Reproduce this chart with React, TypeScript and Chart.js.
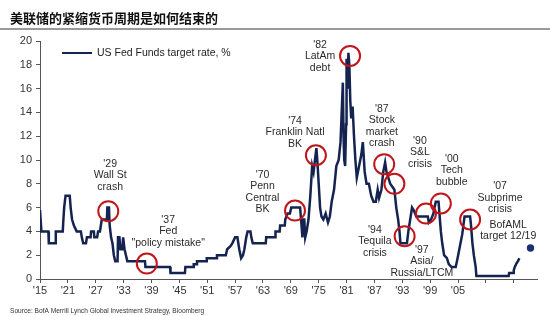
import React, { useEffect, useRef } from "react";
import { Chart, registerables } from "chart.js";

Chart.register(...registerables);

const TITLE = "美联储的紧缩货币周期是如何结束的";
const SOURCE = "Source: BofA Merrill Lynch Global Investment Strategy, Bloomberg";
const SERIES_NAME = "US Fed Funds target rate, %";

const years: number[] = [
  1915.0, 1915.3, 1916.8, 1916.9, 1918.3, 1918.4, 1919.9, 1920.0, 1920.2, 1920.5, 1921.4, 1921.6, 1921.9, 1922.3, 1922.9,
  1923.8, 1924.0, 1924.3, 1924.9, 1925.1, 1925.9, 1926.0, 1926.6, 1926.7, 1927.3, 1927.5, 1927.9, 1928.1, 1928.3, 1929.4,
  1929.5, 1929.85, 1930.0, 1930.3, 1930.6, 1930.9, 1931.2, 1931.7, 1931.8, 1932.1, 1932.3, 1932.7, 1932.9, 1933.2, 1933.5,
  1933.8, 1937.6, 1937.7, 1943.0, 1943.1, 1946.2, 1946.3, 1948.0, 1948.1, 1948.7, 1948.8, 1950.8, 1950.9, 1953.0, 1953.1,
  1955.0, 1955.3, 1956.0, 1956.4, 1957.0, 1957.5, 1957.9, 1958.3, 1958.7, 1959.0, 1959.4, 1959.7, 1960.3, 1960.5, 1960.8,
  1963.6, 1963.7, 1965.6, 1965.7, 1966.6, 1966.7, 1967.7, 1967.8, 1968.3, 1968.8, 1969.1, 1971.0, 1971.2, 1971.5, 1971.7,
  1971.9, 1972.1, 1972.4, 1972.8, 1973.2, 1973.6, 1973.9, 1974.2, 1974.5, 1974.7, 1975.0, 1975.3, 1975.6, 1976.0, 1976.5,
  1977.0, 1977.4, 1977.8, 1978.3, 1978.8, 1979.3, 1979.7, 1979.9, 1980.2, 1980.35, 1980.5, 1980.7, 1980.9, 1981.0, 1981.2,
  1981.4, 1981.6, 1981.8, 1982.0, 1982.3, 1982.6, 1982.9, 1983.2, 1983.7, 1984.2, 1984.5, 1984.9, 1985.3, 1985.8, 1986.3,
  1986.8, 1987.3, 1987.7, 1988.0, 1988.5, 1988.9, 1989.3, 1989.6, 1990.4, 1991.3, 1991.7, 1992.1, 1992.4, 1992.6, 1994.0,
  1994.3, 1994.7, 1995.1, 1995.5, 1996.0, 1998.5, 1998.7, 1999.2, 1999.7, 2000.2, 2000.8, 2001.0, 2001.3, 2001.6, 2002.0,
  2002.6, 2003.0, 2003.6, 2004.5, 2004.9, 2005.4, 2005.9, 2006.4, 2007.6, 2007.8, 2008.1, 2008.4, 2008.8, 2008.95, 2015.9,
  2016.0, 2016.9, 2017.0, 2017.2, 2017.5, 2017.9, 2018.2,
];
const rates: number[] = [
  5.8, 4.0, 4.0, 3.0, 3.0, 4.0, 4.0, 4.75, 6.0, 7.0, 7.0, 6.0, 5.0, 4.5, 4.0,
  4.0, 3.5, 3.0, 3.0, 3.5, 3.5, 4.0, 4.0, 3.5, 3.5, 4.0, 4.0, 4.5, 5.0, 5.0,
  6.0, 6.0, 4.5, 3.5, 3.0, 2.0, 1.5, 1.5, 3.5, 3.5, 2.5, 2.5, 3.5, 2.5, 2.0,
  1.5, 1.5, 1.0, 1.0, 0.5, 0.5, 1.0, 1.0, 1.25, 1.25, 1.5, 1.5, 1.75, 1.75, 2.0,
  2.0, 2.5, 2.75, 3.0, 3.5, 3.5, 2.5, 1.75, 2.0, 2.5, 3.5, 4.0, 4.0, 3.5, 3.0,
  3.0, 3.5, 3.5, 4.0, 4.0, 4.5, 4.5, 5.0, 5.5, 5.5, 6.0, 6.0, 5.0, 3.5, 5.0,
  5.0, 3.5, 4.0, 5.0, 7.0, 9.5, 9.0, 10.0, 11.0, 10.0, 8.0, 6.0, 5.25, 5.0, 5.5,
  4.75, 5.25, 6.5, 7.5, 9.5, 10.0, 11.5, 13.5, 16.5, 12.0, 10.0, 9.5, 13.0, 18.5, 16.0,
  19.0, 18.0, 15.0, 13.5, 14.5, 12.0, 10.0, 8.5, 9.5, 10.5, 11.5, 9.0, 8.0, 8.0, 7.0,
  6.5, 6.5, 7.5, 6.8, 7.5, 9.0, 9.8, 9.0, 8.0, 7.5, 6.0, 5.0, 4.0, 3.0, 3.0,
  4.0, 5.0, 6.0, 5.75, 5.25, 5.25, 4.75, 5.0, 5.5, 6.5, 6.5, 5.5, 4.0, 3.0, 2.0,
  1.75, 1.25, 1.0, 1.0, 1.75, 2.75, 3.75, 5.25, 5.25, 4.5, 3.0, 2.0, 1.0, 0.25, 0.25,
  0.5, 0.5, 0.75, 1.0, 1.25, 1.5, 1.75,
];

const targetYear = [2020.6];
const targetRate = [2.6];

const circleYear = [1929.7, 1938.0, 1969.9, 1974.4, 1981.75, 1989.1, 1991.3, 1993.5, 1998.1, 2001.3, 2007.6];
const circleRate = [5.7, 1.3, 5.75, 10.4, 18.75, 9.65, 8.0, 3.6, 5.5, 6.35, 5.0];

const annoText = [
  "'29\nWall St\ncrash",
  "'37\nFed\n\"policy mistake\"",
  "'70\nPenn\nCentral\nBK",
  "'74\nFranklin Natl\nBK",
  "'82\nLatAm\ndebt",
  "'87\nStock\nmarket\ncrash",
  "'90\nS&L\ncrisis",
  "'94\nTequila\ncrisis",
  "'97\nAsia/\nRussia/LTCM",
  "'00\nTech\nbubble",
  "'07\nSubprime\ncrisis",
  "BofAML\ntarget 12/19",
];
const annoYear = [1930.1, 1942.6, 1962.9, 1969.9, 1975.3, 1988.6, 1996.8, 1987.1, 1997.2, 2003.65, 2014.05, 2015.8];
const annoRate = [9.66, 4.96, 8.74, 13.3, 19.66, 14.29, 11.6, 4.12, 2.44, 10.08, 7.8, 4.54];

const xTickYears = [1915, 1921, 1927, 1933, 1939, 1945, 1951, 1957, 1963, 1969, 1975, 1981, 1987, 1993, 1999, 2005, 2011, 2017];
const xTickLabels = ["'15", "'21", "'27", "'33", "'39", "'45", "'51", "'57", "'63", "'69", "'75", "'81", "'87", "'93", "'99", "'05", "", ""];

const FONT = "'Liberation Sans', Arial, sans-serif";
const NAVY = "#14234f";
const RED = "#c0151b";

export default function App() {
  const ref = useRef<HTMLCanvasElement | null>(null);

  useEffect(() => {
    document.body.style.margin = "0";
    const canvas = ref.current;
    if (!canvas) return;

    const overlay = {
      id: "overlay",
      afterDraw(chart: any) {
        const ctx = chart.ctx;
        const xs = chart.scales.x;
        const ys = chart.scales.y;
        ctx.save();
        // title
        ctx.fillStyle = "#111";
        ctx.font = "bold 13px 'Noto Sans CJK SC', sans-serif";
        ctx.textBaseline = "middle";
        ctx.textAlign = "left";
        ctx.fillText(TITLE, 10, 18);
        ctx.fillStyle = "#9a9a9a";
        ctx.fillRect(0, 28, 550, 2);
        // legend
        ctx.strokeStyle = NAVY;
        ctx.lineWidth = 2;
        ctx.beginPath();
        ctx.moveTo(62, 53);
        ctx.lineTo(92, 53);
        ctx.stroke();
        ctx.fillStyle = "#222";
        ctx.font = `10.5px ${FONT}`;
        ctx.fillText(SERIES_NAME, 97, 53);
        // annotations
        ctx.textAlign = "center";
        ctx.fillStyle = "#2a2a2a";
        ctx.font = `10.5px ${FONT}`;
        annoText.forEach((t, i) => {
          const x = xs.getPixelForValue(annoYear[i]);
          const y = ys.getPixelForValue(annoRate[i]);
          t.split("\n").forEach((line, j) => ctx.fillText(line, x, y + j * 11.5));
        });
        // source
        ctx.textAlign = "left";
        ctx.fillStyle = "#333";
        ctx.font = `6.6px ${FONT}`;
        ctx.fillText(SOURCE, 10, 311.5);
        ctx.restore();
      },
    };

    const chart = new Chart(canvas, {
      type: "scatter",
      data: {
        datasets: [
          {
            data: circleYear.map((x, i) => ({ x, y: circleRate[i] })),
            showLine: false,
            pointRadius: 10,
            pointHoverRadius: 10,
            pointBorderWidth: 2,
            pointBorderColor: RED,
            pointBackgroundColor: "rgba(0,0,0,0)",
          },
          {
            data: targetYear.map((x, i) => ({ x, y: targetRate[i] })),
            showLine: false,
            pointRadius: 3.7,
            pointBorderWidth: 0,
            pointBackgroundColor: "#1a3170",
            pointBorderColor: "#1a3170",
          },
          {
            label: SERIES_NAME,
            data: years.map((x, i) => ({ x, y: rates[i] })),
            showLine: true,
            borderColor: NAVY,
            borderWidth: 2.5,
            pointRadius: 0,
            tension: 0,
            fill: false,
          },
        ],
      },
      options: {
        responsive: false,
        animation: false,
        devicePixelRatio: 1,
        layout: { padding: { top: 41, right: 13, left: 0, bottom: 0 } },
        plugins: { legend: { display: false }, tooltip: { enabled: false }, title: { display: false } },
        events: [],
        scales: {
          x: {
            type: "linear",
            min: 1915,
            max: 2022,
            afterBuildTicks: (s: any) => {
              s.ticks = xTickYears.map((v) => ({ value: v }));
            },
            afterFit: (s: any) => {
              s.height = 37;
            },
            ticks: {
              autoSkip: false,
              maxRotation: 0,
              padding: 1,
              color: "#333",
              font: { family: FONT, size: 11 },
              callback: (v: any) => {
                const k = xTickYears.indexOf(Number(v));
                return k >= 0 ? xTickLabels[k] : "";
              },
            },
            grid: { drawOnChartArea: false, drawTicks: true, tickLength: 4, color: "#555" },
            border: { display: true, color: "#555", width: 1 },
          },
          y: {
            min: 0,
            max: 20,
            afterFit: (s: any) => {
              s.width = 40;
            },
            ticks: { stepSize: 2, padding: 4, color: "#333", font: { family: FONT, size: 11 } },
            grid: { drawOnChartArea: false, drawTicks: true, tickLength: 4, color: "#555" },
            border: { display: true, color: "#555", width: 1 },
          },
        },
      },
      plugins: [overlay],
    } as any);

    return () => chart.destroy();
  }, []);

  return (
    <div style={{ width: 550, height: 316, background: "#fff" }}>
      <canvas ref={ref} width={550} height={316} />
    </div>
  );
}
